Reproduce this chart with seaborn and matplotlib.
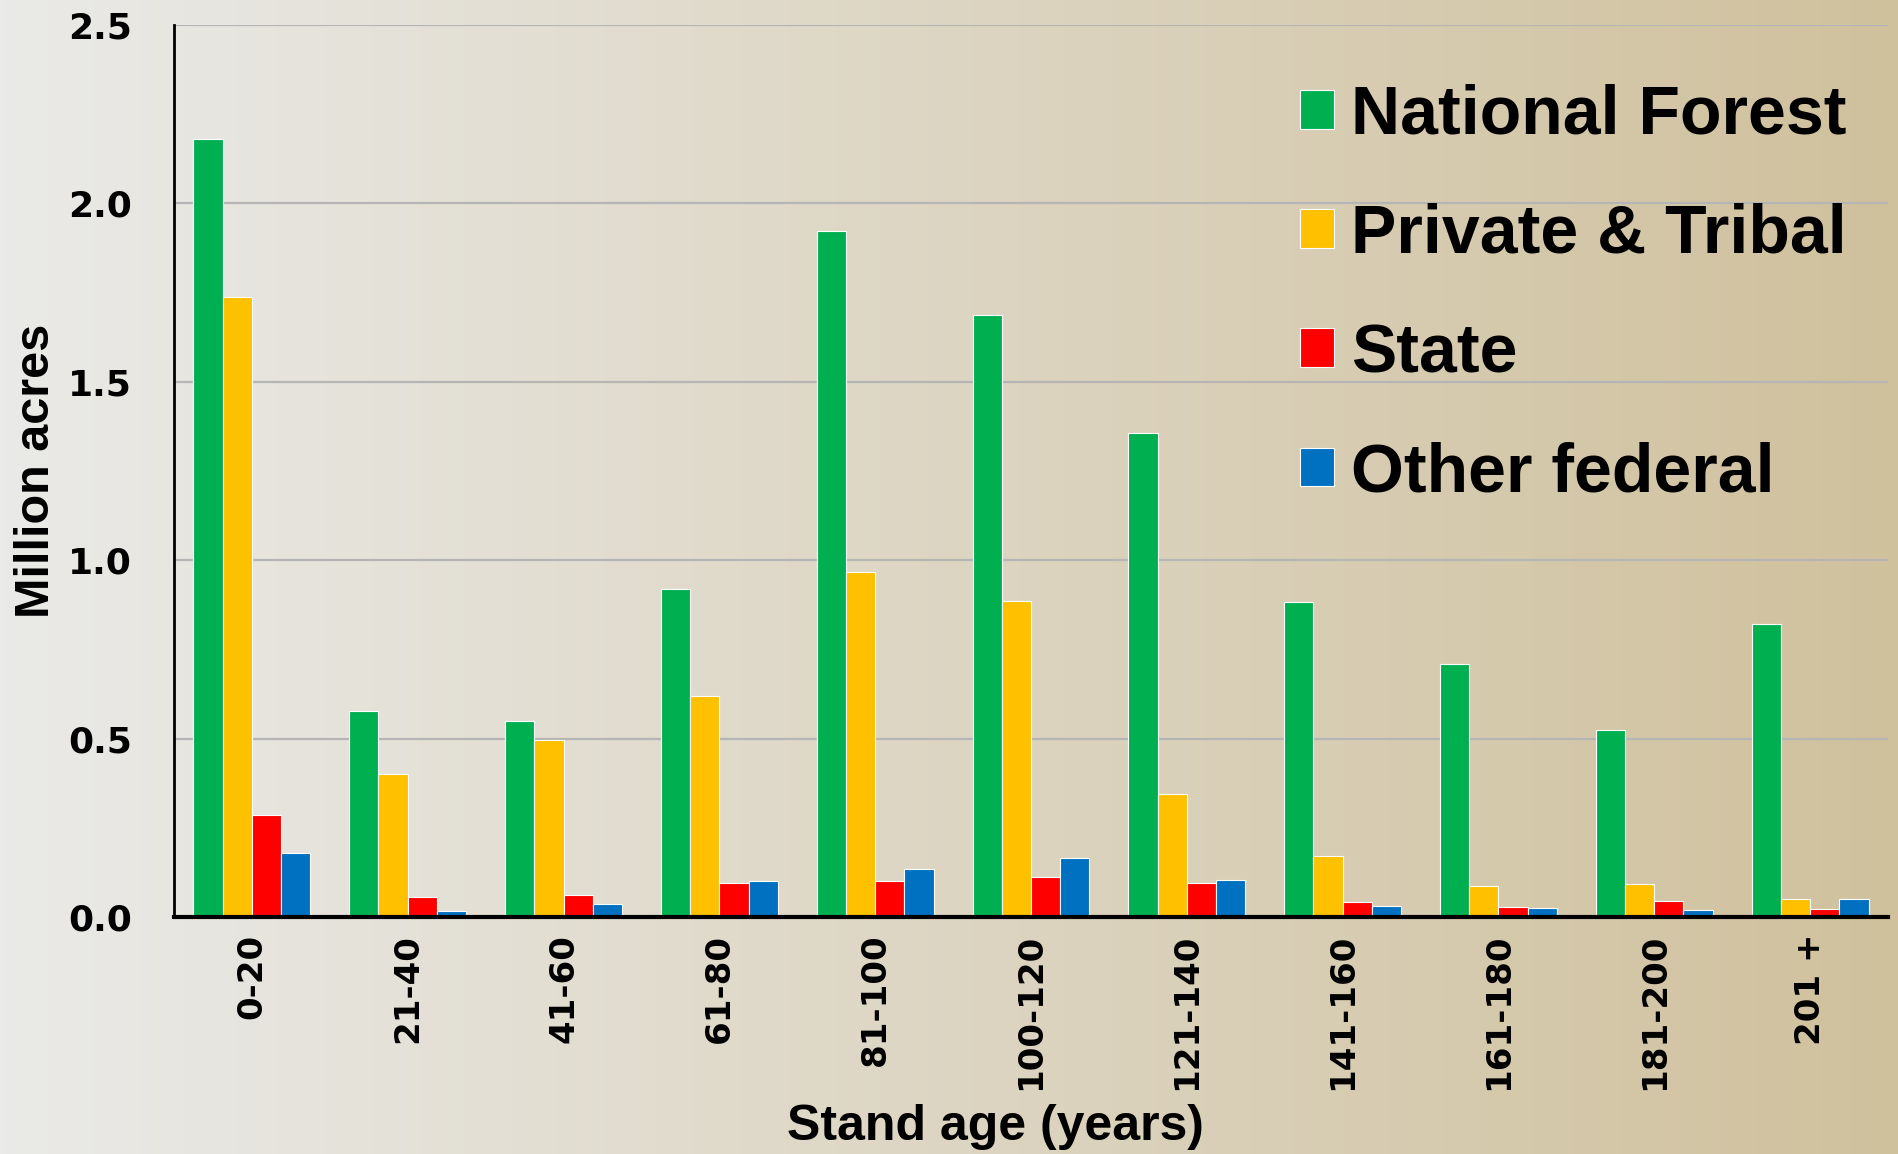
import numpy as np
import pandas as pd
import matplotlib
matplotlib.use("Agg")
import matplotlib.pyplot as plt
import seaborn as sns

# stand age classes on the x axis
age_classes = ["0-20", "21-40", "41-60", "61-80", "81-100", "100-120",
               "121-140", "141-160", "161-180", "181-200", "201 +"]

# million acres by ownership
national_forest = [2.18, 0.578, 0.55, 0.919, 1.923, 1.686, 1.357, 0.882, 0.709, 0.523, 0.821]
private_tribal = [1.737, 0.40, 0.495, 0.62, 0.967, 0.885, 0.346, 0.172, 0.088, 0.093, 0.051]
state = [0.285, 0.055, 0.061, 0.095, 0.102, 0.111, 0.094, 0.043, 0.029, 0.044, 0.022]
other_federal = [0.178, 0.016, 0.036, 0.102, 0.135, 0.164, 0.103, 0.032, 0.026, 0.019, 0.049]

owners = ["National Forest", "Private & Tribal", "State", "Other federal"]
owner_colors = ["#00b050", "#ffc000", "#ff0000", "#0070c0"]

yticks = [0.0, 0.5, 1.0, 1.5, 2.0, 2.5]

df = pd.DataFrame({
    "age": age_classes,
    owners[0]: national_forest,
    owners[1]: private_tribal,
    owners[2]: state,
    owners[3]: other_federal,
}).melt(id_vars="age", var_name="owner", value_name="acres")

sns.set_style("white")
plt.rcParams["font.family"] = ["Liberation Sans", "DejaVu Sans"]
plt.rcParams["text.color"] = "black"
plt.rcParams["axes.labelcolor"] = "black"
plt.rcParams["xtick.color"] = "black"
plt.rcParams["ytick.color"] = "black"

fig = plt.figure(figsize=(18.99, 11.54), dpi=100)

# background: grey on the left fading to tan on the right
bg = fig.add_axes([0, 0, 1, 1], zorder=-10)
left_c = np.array(matplotlib.colors.to_rgb("#eaeae8"))
right_c = np.array(matplotlib.colors.to_rgb("#d0c19d"))
t = np.linspace(0, 1, 512)[None, :, None]
grad = left_c[None, None, :] * (1 - t) + right_c[None, None, :] * t
bg.imshow(grad, aspect="auto", extent=[0, 1, 0, 1])
bg.axis("off")

ax = fig.add_axes([0.0916, 0.2054, 0.9026, 0.773])
ax.patch.set_alpha(0)

sns.barplot(data=df, x="age", y="acres", hue="owner", hue_order=owners,
            palette=owner_colors, width=0.75, edgecolor="white", linewidth=0.8,
            saturation=1, ax=ax)

ax.set_ylim(0, 2.5)
ax.set_xlim(-0.5, len(age_classes) - 0.5)
ax.set_yticks(yticks)
ax.set_yticklabels([f"{v:.1f}" for v in yticks], fontsize=26, fontweight="bold",
                   family=["DejaVu Sans"])
ax.set_xticks(range(len(age_classes)))
ax.set_xticklabels(age_classes, rotation=90, fontsize=24.5, fontweight="bold",
                   family=["DejaVu Sans"])
ax.tick_params(axis="both", length=0)
ax.tick_params(axis="y", pad=30)
ax.tick_params(axis="x", pad=12)

ax.yaxis.grid(True, color="#b5b5b5", linewidth=1.6)
ax.set_axisbelow(True)
for s in ["top", "right"]:
    ax.spines[s].set_visible(False)
ax.spines["left"].set_color("black")
ax.spines["left"].set_linewidth(2)
ax.spines["bottom"].set_color("black")
ax.spines["bottom"].set_linewidth(3)

ax.set_xlabel("Stand age (years)", fontsize=36, fontweight="bold")
ax.xaxis.set_label_coords(0.479, -0.21)
ax.set_ylabel("Million acres", fontsize=35, fontweight="bold")
ax.yaxis.set_label_coords(-0.067, 0.5)

ax.legend(loc="upper left", bbox_to_anchor=(0.657, 0.934), frameon=False,
          borderpad=0, borderaxespad=0,
          handlelength=0.5, handleheight=0.5, handletextpad=0.25,
          labelspacing=0.81, prop={"weight": "bold", "size": 49})

fig.savefig("out.png", dpi=100)
